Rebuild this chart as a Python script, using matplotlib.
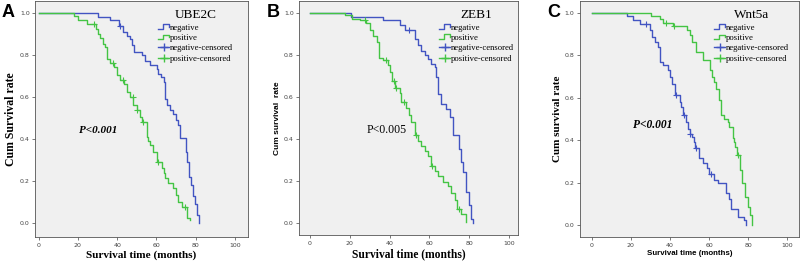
import numpy as np
import matplotlib
matplotlib.use("Agg")
import matplotlib.pyplot as plt
from matplotlib.lines import Line2D
from matplotlib.legend_handler import HandlerBase

# ── Kaplan-Meier curves (time in months, survival) ──
a_neg_t = [0, 30.5, 36.4, 40.7, 43.2, 44.9, 46.6, 47.5, 48.7, 52.5, 54.2, 56.8, 60.2, 61.0, 62.4, 63.6,
           64.4, 65.3, 67.0, 68.6, 70.0, 71.2, 72.0, 75.2, 75.8, 76.6, 77.5, 78.5, 79.8, 80.8, 81.9]
a_neg_s = [1, .98, .965, .94, .91, .89, .875, .847, .815, .80, .77, .752, .736, .712, .696, .672,
           .593, .562, .538, .522, .49, .47, .404, .34, .29, .22, .18, .13, .09, .04, 0]
a_neg_c = [41.5]
a_pos_t = [0, 17.8, 20.3, 24.6, 29.3, 30.5, 31.4, 33.0, 33.9, 34.7, 36.4, 38.5, 39.8, 41.5, 43.5, 44.9,
           46.6, 48.3, 50.0, 51.7, 52.5, 55.1, 55.9, 56.8, 58.1, 60.2, 62.7, 63.6, 64.4, 66.1, 68.6,
           70.0, 71.2, 72.9, 75.8, 77.0]
a_pos_s = [1, .988, .965, .95, .926, .902, .881, .855, .839, .783, .764, .744, .704, .68, .661, .625,
           .601, .562, .538, .506, .482, .411, .39, .372, .34, .293, .261, .237, .214, .19, .166,
           .134, .103, .079, .024, .015]
a_pos_c = [28.0, 37.8, 42.9, 47.9, 50.3, 53.4, 61.0, 74.6]

b_neg_t = [0, 20.5, 36.8, 45.2, 47.7, 52.7, 54.3, 56.0, 57.7, 59.4, 61.0, 62.7, 63.6, 64.4, 66.1, 68.6,
           70.2, 71.9, 74.9, 76.1, 76.9, 78.6, 79.9, 81.1, 81.9]
b_neg_s = [1, .979, .963, .94, .918, .874, .845, .816, .80, .781, .758, .742, .694, .615, .567, .543,
           .503, .416, .353, .29, .242, .147, .084, .021, 0]
b_neg_c = [49.8]
b_pos_t = [0, 17.6, 20.9, 25.1, 28.1, 30.1, 31.5, 33.5, 34.8, 36.8, 39.3, 40.5, 41.5, 42.6, 45.2, 46.0,
           48.5, 49.8, 51.0, 52.7, 54.3, 56.0, 57.7, 59.4, 61.0, 62.7, 64.4, 66.9, 69.4, 71.1, 72.7,
           74.0, 76.1, 78.6]
b_pos_s = [1, .987, .971, .963, .95, .918, .887, .863, .784, .776, .751, .72, .673, .64, .617, .577,
           .546, .514, .482, .419, .388, .364, .34, .317, .269, .245, .221, .197, .174, .142, .11,
           .068, .044, .005]
b_pos_c = [27.6, 38.1, 42.2, 43.1, 47.2, 53.3, 61.3, 74.9]

c_neg_t = [0, 17.8, 20.9, 24.6, 30.0, 31.0, 32.2, 33.9, 35.1, 36.4, 39.0, 39.8, 41.2, 42.4, 44.9, 45.8,
           46.9, 48.3, 49.1, 50.0, 51.4, 52.5, 53.0, 54.7, 56.8, 58.8, 59.8, 62.7, 64.4, 68.6, 70.3,
           71.2, 74.6, 78.0, 78.8]
c_neg_s = [1, .987, .964, .948, .917, .885, .862, .838, .768, .752, .729, .697, .666, .611, .58, .556,
           .517, .486, .455, .431, .415, .392, .364, .314, .291, .267, .243, .212, .20, .149, .125,
           .078, .039, .024, 0]
c_neg_c = [27.6, 42.9, 47.2, 50.3, 53.3, 61.0]
c_pos_t = [0, 30.5, 34.7, 36.4, 41.5, 48.6, 50.0, 51.4, 53.4, 56.8, 60.2, 61.5, 62.7, 63.6, 64.9, 66.1,
           67.8, 69.5, 70.3, 72.0, 72.9, 73.4, 74.3, 75.8, 76.8, 78.5, 79.7, 80.8, 81.9]
c_pos_s = [1, .987, .972, .951, .936, .917, .894, .862, .815, .779, .729, .697, .674, .643, .588, .517,
           .502, .486, .462, .408, .392, .368, .33, .259, .196, .133, .086, .047, 0]
c_pos_c = [37.8, 42.2, 74.9]

x_ticks = [0, 20, 40, 60, 80, 100]
y_ticks = [0.0, 0.2, 0.4, 0.6, 0.8, 1.0]
legend_labels = ["negative", "positive", "negative-censored", "positive-censored"]

BLUE = "#4254c2"
GREEN = "#44c444"
SERIF = "Liberation Serif"
SANS = "Liberation Sans"


class StepHandler(HandlerBase):
    # small step-shaped icon like the SPSS legend
    def create_artists(self, legend, orig_handle, xdescent, ydescent, width, height, fontsize, trans):
        x0 = -xdescent
        xs = [x0, x0 + width * 0.45, x0 + width * 0.45, x0 + width, x0 + width]
        ys = [0.1 * height, 0.1 * height, 0.9 * height, 0.9 * height, 0.5 * height]
        ln = Line2D(xs, ys, color=orig_handle.get_color(), lw=1.0, transform=trans)
        return [ln]


def censor_vals(t, s, ct):
    idx = np.searchsorted(np.array(t), np.array(ct), side="right") - 1
    return np.array(s)[idx]


def km_panel(ax, neg, pos, title, xlim, ylim, leg_x):
    ax.set_facecolor("#f0f0f0")
    for t, s, ct, col in [(neg[0], neg[1], neg[2], BLUE), (pos[0], pos[1], pos[2], GREEN)]:
        ax.step(t, s, where="post", color=col, lw=1.0)
        ax.plot(ct, censor_vals(t, s, ct), ls="none", marker="+", ms=4, mew=0.8, color=col)
    ax.set_xlim(xlim)
    ax.set_ylim(ylim)
    ax.set_xticks(x_ticks)
    ax.set_yticks(y_ticks)
    ax.set_yticklabels([f"{v:.1f}" for v in y_ticks])
    ax.tick_params(labelsize=4.5, length=2, width=0.5, colors="#444444", pad=2)
    for sp in ax.spines.values():
        sp.set_color("#555555")
        sp.set_linewidth(0.6)
    handles = [Line2D([], [], color=BLUE), Line2D([], [], color=GREEN),
               Line2D([], [], color=BLUE, marker="+", ms=6, lw=1.0),
               Line2D([], [], color=GREEN, marker="+", ms=6, lw=1.0)]
    leg = ax.legend(handles, legend_labels, title=title, loc="upper right",
                    bbox_to_anchor=(leg_x, 0.963), frameon=False,
                    prop={"family": SERIF, "size": 6.2},
                    handler_map={handles[0]: StepHandler(), handles[1]: StepHandler()},
                    handlelength=1.3, handletextpad=0.1, labelspacing=0.27, borderpad=0.0,
                    borderaxespad=0.0)
    leg.get_title().set_fontfamily(SERIF)
    leg.get_title().set_fontsize(9.5)
    return ax


fig = plt.figure(figsize=(8, 2.63), dpi=100)

ax_a = fig.add_axes([0.044, 0.099, 0.266, 0.899])
km_panel(ax_a, (a_neg_t, a_neg_s, a_neg_c), (a_pos_t, a_pos_s, a_pos_c), "UBE2C",
         (-1.7, 106.6), (-0.065, 1.06), 0.93)
ax_a.set_ylabel("Cum Survival rate", family=SERIF, fontweight="bold", fontsize=8.5, labelpad=2)
ax_a.set_xlabel("Survival time (months)", family=SERIF, fontweight="bold", fontsize=8.1, labelpad=2)
ax_a.text(30.4, 0.44, "P<0.001", family=SERIF, fontweight="bold", style="italic", fontsize=8,
          ha="center", va="center")

ax_b = fig.add_axes([0.374, 0.106, 0.273, 0.892])
km_panel(ax_b, (b_neg_t, b_neg_s, b_neg_c), (b_pos_t, b_pos_s, b_pos_c), "ZEB1",
         (-5.4, 104.4), (-0.058, 1.058), 0.985)
ax_b.set_ylabel("Cum survival  rate", family=SANS, fontweight="bold", fontsize=6, labelpad=2)
ax_b.set_xlabel("Survival time (months)", family=SERIF, fontweight="bold", fontsize=8.3, labelpad=2)
ax_b.text(38.7, 0.44, "P<0.005", family=SERIF, fontsize=8.5, ha="center", va="center")

ax_c = fig.add_axes([0.725, 0.099, 0.274, 0.899])
km_panel(ax_c, (c_neg_t, c_neg_s, c_neg_c), (c_pos_t, c_pos_s, c_pos_c), "Wnt5a",
         (-5.95, 106.0), (-0.056, 1.058), 0.955)
ax_c.set_ylabel("Cum survival rate", family=SERIF, fontweight="bold", fontsize=8, labelpad=2)
ax_c.set_xlabel("Survival time (months)", family=SANS, fontweight="bold", fontsize=5.7, labelpad=2)
ax_c.text(31, 0.47, "P<0.001", family=SERIF, fontweight="bold", style="italic", fontsize=8.3,
          ha="center", va="center")

for lbl, x in [("A", 0.002), ("B", 0.333), ("C", 0.684)]:
    fig.text(x, 0.985, lbl, family=SANS, fontweight="bold", fontsize=13, va="top", ha="left")

fig.savefig("out.png", dpi=100, facecolor="white")
